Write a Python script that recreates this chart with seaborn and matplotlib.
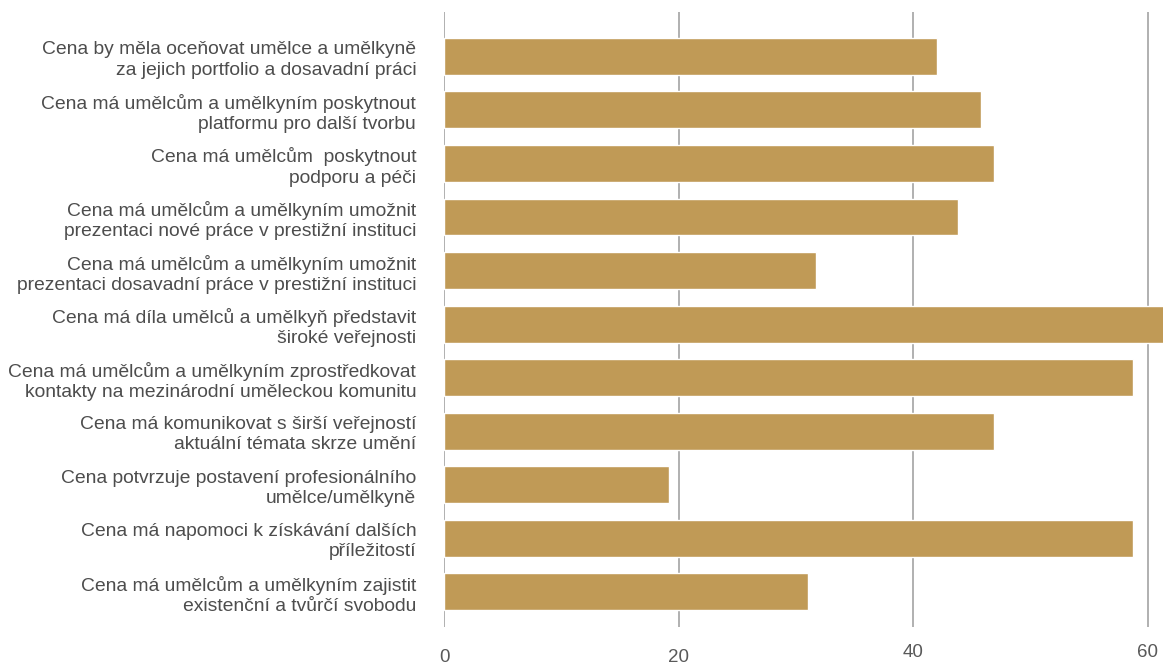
import matplotlib
matplotlib.use("Agg")
import matplotlib.pyplot as plt
import seaborn as sns
import pandas as pd

labels = [
    "Cena by měla oceňovat umělce a umělkyně\nza jejich portfolio a dosavadní práci",
    "Cena má umělcům a umělkyním poskytnout\nplatformu pro další tvorbu",
    "Cena má umělcům  poskytnout\npodporu a péči",
    "Cena má umělcům a umělkyním umožnit\nprezentaci nové práce v prestižní instituci",
    "Cena má umělcům a umělkyním umožnit\nprezentaci dosavadní práce v prestižní instituci",
    "Cena má díla umělců a umělkyň představit\nširoké veřejnosti",
    "Cena má umělcům a umělkyním zprostředkovat\nkontakty na mezinárodní uměleckou komunitu",
    "Cena má komunikovat s širší veřejností\naktuální témata skrze umění",
    "Cena potvrzuje postavení profesionálního\numělce/umělkyně",
    "Cena má napomoci k získávání dalších\npříležitostí",
    "Cena má umělcům a umělkyním zajistit\nexistenční a tvůrčí svobodu",
]
values = [42, 45.8, 46.9, 43.8, 31.7, 62, 58.7, 46.9, 19.2, 58.7, 31]
xticks = [0, 20, 40, 60]

df = pd.DataFrame({"label": labels, "value": values})

sns.set_style("white")
plt.rcParams["font.family"] = ["Liberation Sans", "DejaVu Sans"]

fig = plt.figure(figsize=(11.63, 6.64), dpi=100)
ax = fig.add_axes([444 / 1163, 37 / 664, 1 - 444 / 1163, (627 - 12) / 664])

# vertical grid lines behind the bars
ax.set_axisbelow(True)
ax.xaxis.grid(True, color="#aaaaaa", linewidth=1.3)
ax.yaxis.grid(False)

sns.barplot(data=df, x="value", y="label", color="#c09a56", saturation=1,
            width=0.69, ax=ax, orient="h")

ax.set_xlim(0, 61.28)
ax.set_ylim(10.66, -0.83)
ax.set_xticks(xticks)
ax.set_xlabel("")
ax.set_ylabel("")
for s in ax.spines.values():
    s.set_visible(False)

ax.tick_params(axis="y", length=0, pad=20, labelsize=13.9, labelcolor="#4d4d4d")
for t in ax.get_yticklabels():
    t.set_linespacing(1.25)
ax.tick_params(axis="x", length=5, width=1.3, color="#aaaaaa", labelsize=13.5,
               labelcolor="#595959")
ticks = ax.xaxis.get_major_ticks()
for i, t in enumerate(ticks):
    if i >= 2:
        t.tick1line.set_visible(False)
        t.set_pad(7)
    else:
        t.set_pad(11)

plt.savefig("out.png", dpi=100)
